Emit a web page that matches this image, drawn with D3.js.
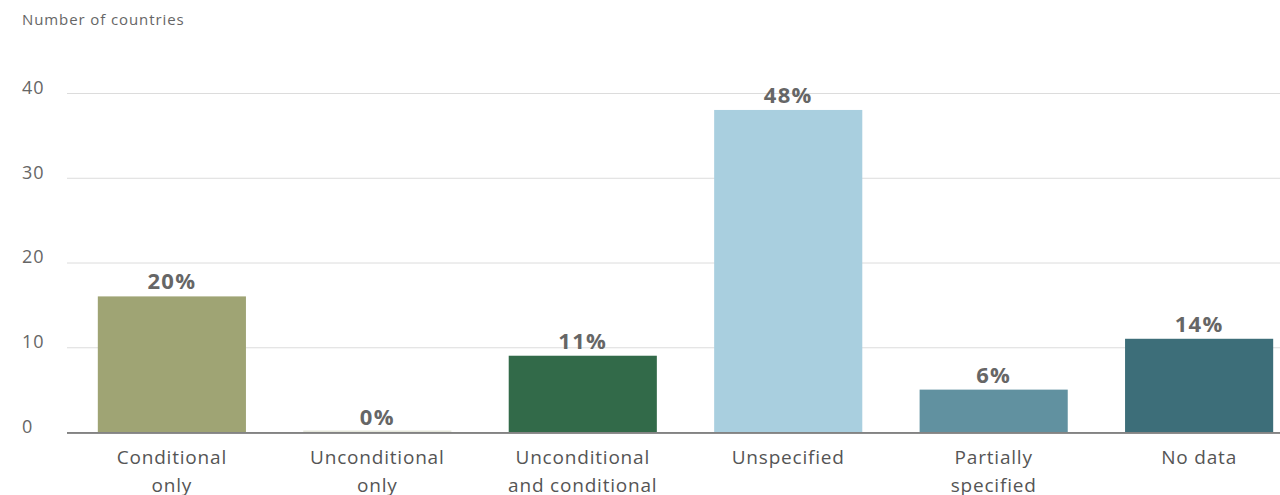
<!DOCTYPE html>
<html>
<head>
<meta charset="utf-8">
<script src="https://cdn.jsdelivr.net/npm/d3@7"></script>
<style>
  body { margin: 0; background: #fff; }
  svg text { font-family: "Open Sans", Lato, sans-serif; }
</style>
</head>
<body>
<div id="chart"></div>
<script>
const categories = [
  ["Conditional", "only"],
  ["Unconditional", "only"],
  ["Unconditional", "and conditional"],
  ["Unspecified"],
  ["Partially", "specified"],
  ["No data"]
];
const counts = [16, 0, 9, 38, 5, 11];
const shareLabels = ["20%", "0%", "11%", "48%", "6%", "14%"];
const barColors = ["#9fa474", "#e6e8dc", "#326a49", "#a9cfdf", "#6191a0", "#3d6e79"];
const yTicks = [0, 10, 20, 30, 40];

const width = 1280, height = 495;
const margin = { top: 93, right: 0, bottom: 63, left: 67 };

const svg = d3.select("#chart").append("svg")
    .attr("width", width)
    .attr("height", height);

const keys = categories.map(d => d.join(" "));

const x = d3.scaleBand()
    .domain(keys)
    .range([margin.left, 1304])
    .paddingInner(0.279)
    .paddingOuter(0.15);

const y = d3.scaleLinear()
    .domain([0, 40])
    .range([432, margin.top]);

// gridlines
const grid = svg.append("g")
    .attr("transform", `translate(${margin.left},0)`)
    .call(d3.axisLeft(y).tickValues(yTicks).tickSize(-(width - margin.left)).tickFormat(""));
grid.select(".domain").remove();
grid.selectAll(".tick line").attr("stroke", "#dcdcdc");

// tick labels
svg.selectAll(".ylab")
    .data(yTicks)
    .enter()
    .append("text")
    .attr("x", 22)
    .attr("y", d => y(d) - 4)
    .attr("dominant-baseline", "middle")
    .style("font-size", "18px")
    .style("letter-spacing", "1px")
    .style("fill", "#666")
    .text(d => d);

svg.append("text")
    .attr("x", 22)
    .attr("y", 25)
    .style("font-size", "15px")
    .style("letter-spacing", "0.9px")
    .style("fill", "#666")
    .text("Number of countries");

// bars
svg.selectAll(".bar")
    .data(counts)
    .enter()
    .append("rect")
    .attr("x", (d, i) => x(keys[i]))
    .attr("y", d => d === 0 ? y(0) - 1.5 : y(d))
    .attr("width", x.bandwidth())
    .attr("height", d => d === 0 ? 1.5 : y(0) - y(d))
    .attr("fill", (d, i) => barColors[i]);

// baseline
svg.append("line")
    .attr("x1", margin.left)
    .attr("x2", width)
    .attr("y1", y(0) + 1)
    .attr("y2", y(0) + 1)
    .attr("stroke", "#666")
    .attr("stroke-width", 1.5);

// value labels
svg.selectAll(".val")
    .data(counts)
    .enter()
    .append("text")
    .attr("x", (d, i) => x(keys[i]) + x.bandwidth() / 2)
    .attr("y", d => y(d) - 7)
    .attr("text-anchor", "middle")
    .style("font-size", "22px")
    .style("font-weight", "bold")
    .style("letter-spacing", "1.3px")
    .style("fill", "#666")
    .text((d, i) => shareLabels[i]);

// category labels
const cat = svg.selectAll(".cat")
    .data(categories)
    .enter()
    .append("text")
    .attr("x", (d, i) => x(keys[i]) + x.bandwidth() / 2)
    .attr("y", 464)
    .attr("text-anchor", "middle")
    .style("font-size", "19px")
    .style("letter-spacing", "0.8px")
    .style("fill", "#555");
cat.selectAll("tspan")
    .data(d => d)
    .enter()
    .append("tspan")
    .attr("x", function() { return d3.select(this.parentNode).attr("x"); })
    .attr("dy", (d, i) => i === 0 ? 0 : 28)
    .text(d => d);
</script>
</body>
</html>
